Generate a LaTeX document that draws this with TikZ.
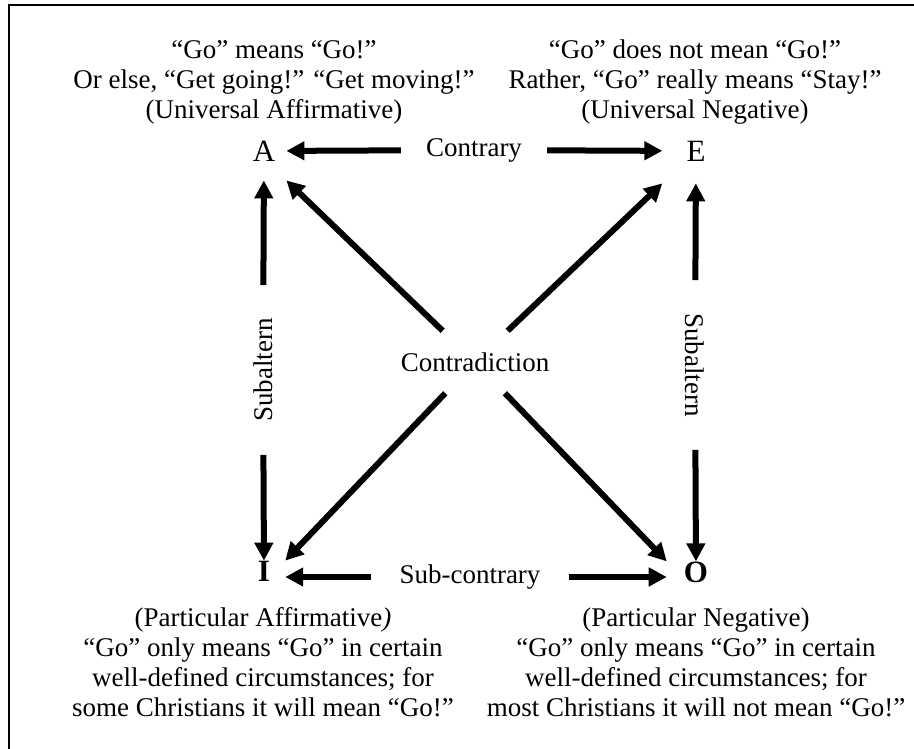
\documentclass[tikz,border=0pt]{standalone}
\usepackage{fontspec}
\setmainfont{Liberation Serif}
\usetikzlibrary{arrows.meta}
\tikzstyle{letter}=[font=\fontsize{31}{31}\selectfont, inner sep=0pt]
\tikzstyle{textblock}=[font=\fontsize{27}{30}\selectfont, align=center, inner sep=0pt]
\tikzstyle{relation}=[font=\fontsize{27}{30}\selectfont, inner ysep=0pt]
\tikzstyle{relarrow}=[draw, line width=6pt, -{Triangle[length=18pt,width=18pt]}]
\begin{document}
\begin{tikzpicture}[x=1pt, y=-1pt]

   \useasboundingbox (0,0) rectangle (914,749);
   \draw[line width=2pt] (9,749) -- (9,5) -- (914,5);

    \foreach \pos/ \name / \label / \xs / \ys in {(264,151)/A/A/11pt/19pt, (696,151)/E/E/24pt/22pt,
        (264,571)/I/\textbf{I}/15pt/0pt, (696,572)/O/\textbf{O}/17pt/0pt}
        \node[letter, inner xsep=\xs, inner ysep=\ys] (\name) at \pos {\label};

    \node[textblock] (descA) at (274,82) {“Go” means “Go!”\\Or else, “Get going!” “Get moving!”\\(Universal Affirmative)};
    \node[textblock] (descE) at (695,82) {“Go” does not mean “Go!”\\Rather, “Go” really means “Stay!”\\(Universal Negative)};
    \node[textblock] (descI) at (263,662) {(Particular Affirmative\textit{)}\\“Go” only means “Go” in certain\\well-defined circumstances; for\\some Christians it will mean “Go!”};
    \node[textblock] (descO) at (696,662) {(Particular Negative)\\“Go” only means “Go” in certain\\well-defined circumstances; for\\most Christians it will not mean “Go!”};

    \node[relation, inner xsep=25pt] (contrary) at (474,150) {Contrary};
    \node[relation, inner xsep=28pt] (subcontrary) at (470,577) {Sub-contrary};
    \node[relation, inner xsep=33pt, rotate=90] (subalternL) at (263,370) {Subaltern};
    \node[relation, inner xsep=33pt, rotate=-90] (subalternR) at (695,365) {Subaltern};
    \node[relation, inner xsep=0pt, minimum height=62pt] (contradiction) at (475,362) {Contradiction};

    % Connect the four corners through the relation labels
    \foreach \source/ \dest in {contrary/A, contrary/E, subalternL/A, subalternL/I, subalternR/E, subalternR/O,
        contradiction/A.south east, contradiction/E.south west, contradiction/I.north east, contradiction/O.north west}
        \draw[relarrow] (\source) -- (\dest);
    \draw[relarrow] (subcontrary) -- (subcontrary -| I.east);
    \draw[relarrow] (subcontrary) -- (subcontrary -| O.west);

\end{tikzpicture}
\end{document}
